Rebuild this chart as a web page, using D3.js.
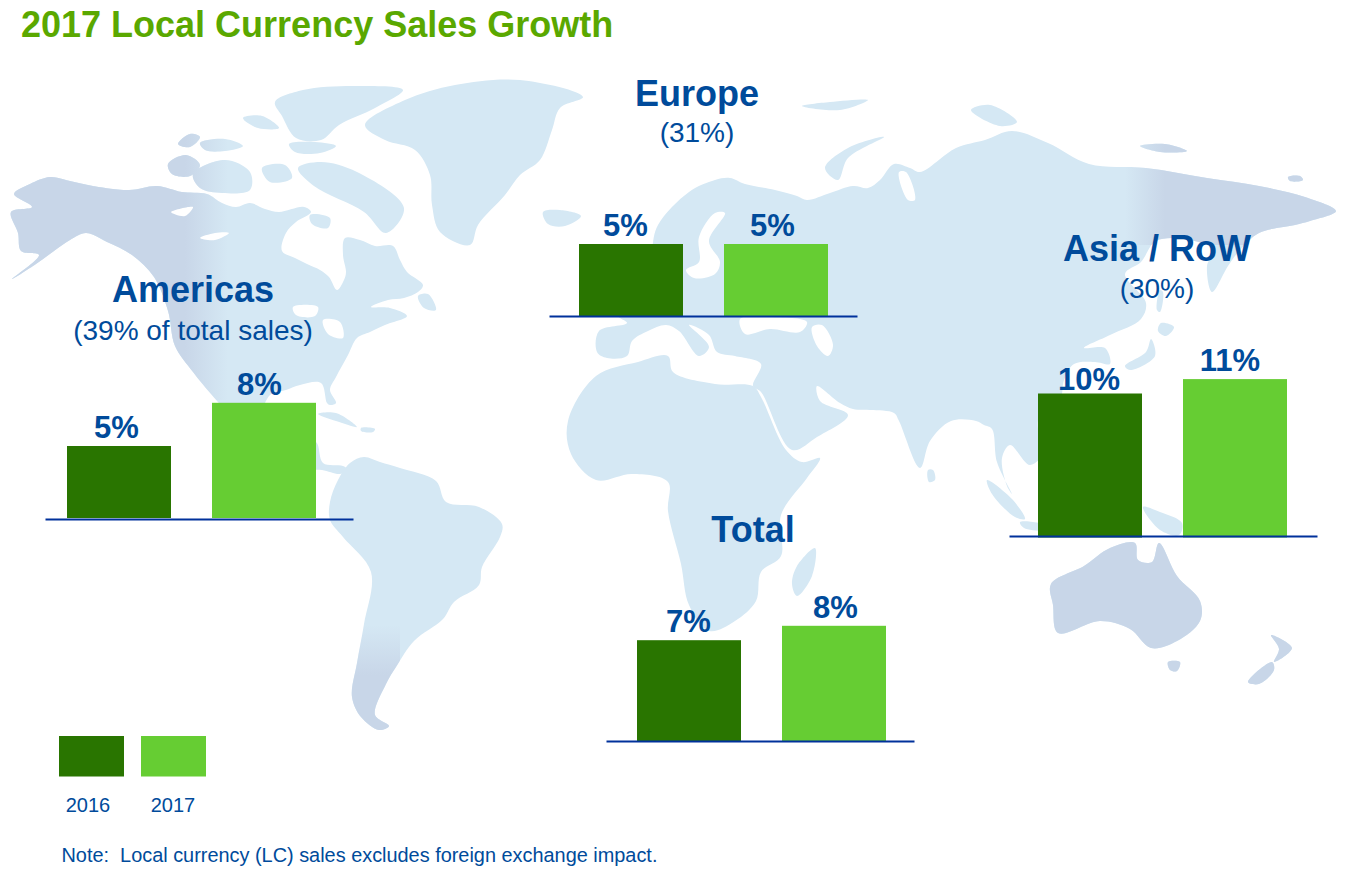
<!DOCTYPE html>
<html>
<head>
<meta charset="utf-8">
<script src="https://cdn.jsdelivr.net/npm/d3@7"></script>
<style>
  body { margin: 0; background: #fff; }
  text { font-family: "Liberation Sans", Arial, sans-serif; }
</style>
</head>
<body>
<svg id="chart"></svg>
<script>
const width = 1345;
const height = 871;

// chart values
const years = ["2016", "2017"];
const regions = ["Americas", "Europe", "Asia / RoW", "Total"];
const shares = ["(39% of total sales)", "(31%)", "(30%)", ""];
const values2016 = [5, 5, 10, 7];
const values2017 = [8, 5, 11, 8];

// where each little panel sits on the map
const panelLeft = [45, 549, 1009, 606];
const barLeft = [67, 579, 1038, 637];
const panelBase = [518, 316, 537.5, 741];
const lineBase = [519, 316, 536, 741];
const titleX = [193, 697, 1157, 753];
const titleY = [302, 106, 261, 542];
const shareY = [340, 142, 298, 0];
const labelShift2016 = [-2.5, -5.5, -1, -0.5];
const labelShift2017 = [-4.5, -3.5, -5, 1.5];
const legendTextX = [88, 173];

const colors = {"2016": "#297500", "2017": "#66cd33"};
const navy = "#004b9b";

// background map outlines in page pixels
const land = [
  // north america
  [[14,194],[30,184],[50,177],[70,181],[93,186],[129,190],[157,186],[182,192],[207,194],[222,203],[236,207],[250,203],[265,209],[279,212],[304,207],[311,212],[296,222],[286,233],[282,251],[295,258],[307,264],[320,270],[329,277],[337,290],[344,280],[346,272],[343,255],[345,238],[360,240],[375,246],[393,246],[400,260],[407,272],[423,285],[418,292],[404,298],[388,300],[371,307],[390,308],[407,316],[385,325],[370,332],[357,338],[348,355],[336,377],[330,390],[336,403],[330,405],[327,403],[321,383],[300,385],[286,390],[270,395],[262,420],[280,445],[300,440],[316,442],[323,463],[343,466],[348,470],[340,474],[322,470],[300,468],[262,440],[235,420],[211,394],[193,372],[175,346],[168,311],[154,277],[132,255],[107,242],[86,233],[70,240],[54,251],[36,264],[12,279],[39,255],[21,251],[18,233],[11,212],[32,207]],
  [[418,296],[428,294],[436,310],[424,308]],
  // south america
  [[330,502],[338,480],[350,463],[364,457],[380,462],[400,468],[436,481],[446,502],[479,507],[502,524],[500,537],[482,567],[479,585],[454,602],[443,619],[414,641],[396,667],[386,684],[375,715],[389,726],[379,730],[361,717],[352,697],[357,663],[364,624],[371,572],[343,537],[330,520]],
  // greenland
  [[365,125],[405,100],[455,85],[520,80],[583,97],[560,108],[552,130],[540,160],[520,175],[505,195],[478,225],[470,245],[440,232],[432,205],[430,175],[415,150],[385,140]],
  // arctic canada
  [[275,102],[303,90],[357,86],[403,90],[375,108],[339,125],[321,140],[296,138],[282,116]],
  [[298,168],[321,162],[357,172],[404,208],[386,233],[364,212],[314,186]],
  [[168,164],[186,155],[200,165],[190,176],[172,174]],
  [[193,174],[225,160],[250,172],[250,190],[222,193],[200,188]],
  [[178,144],[190,134],[200,137],[190,147]],
  [[200,143],[225,139],[243,146],[225,151],[205,150]],
  [[243,118],[262,116],[279,128],[258,128]],
  [[289,144],[315,142],[336,146],[320,153],[295,152]],
  [[262,168],[285,165],[292,178],[270,182]],
  [[310,215],[330,218],[328,228],[312,224]],
  // cuba, hispaniola
  [[318,414],[336,413],[357,427],[336,421]],
  [[361,428],[375,429],[373,432],[361,431]],
  // eurasia
  [[715,180],[730,178],[745,184],[775,190],[797,196],[807,200],[830,193],[853,186],[868,188],[880,180],[894,164],[910,168],[920,172],[956,148],[985,140],[1012,131],[1048,143],[1089,164],[1146,168],[1207,178],[1259,186],[1305,197],[1336,211],[1310,221],[1295,225],[1259,233],[1240,250],[1228,266],[1212,292],[1207,266],[1213,250],[1190,240],[1156,241],[1141,262],[1125,274],[1146,303],[1141,319],[1110,335],[1084,348],[1105,348],[1110,364],[1095,362],[1074,364],[1064,380],[1060,400],[1040,415],[1038,429],[1045,450],[1030,465],[1010,445],[1002,458],[1007,486],[1012,494],[997,462],[992,429],[984,425],[976,421],[951,421],[930,441],[920,468],[899,421],[894,413],[870,410],[853,409],[840,403],[817,386],[820,401],[848,415],[817,437],[792,450],[761,392],[753,386],[761,364],[735,356],[717,352],[709,335],[689,325],[709,347],[699,356],[679,331],[666,325],[648,331],[632,341],[627,356],[607,358],[597,352],[599,331],[627,323],[617,315],[620,300],[650,290],[652,250],[658,225],[689,192]],
  // africa
  [[568,421],[596,376],[638,362],[668,356],[673,372],[715,384],[753,386],[761,397],[786,450],[802,462],[820,458],[807,478],[781,515],[781,556],[761,572],[756,601],[735,621],[709,631],[689,605],[681,564],[668,511],[668,482],[632,474],[596,480],[571,454]],
  // islands of the old world
  [[815,548],[812,576],[797,596],[792,584],[797,566]],
  [[543,212],[560,210],[581,216],[565,226],[548,224]],
  [[825,168],[848,148],[884,137],[848,158],[838,180]],
  [[971,110],[990,105],[1017,122],[1000,126]],
  [[1140,146],[1165,144],[1187,151],[1160,152]],
  [[802,106],[830,102],[868,100],[840,110]],
  [[1288,177],[1300,176],[1303,180],[1290,181]],
  [[928,470],[933,470],[935,480],[929,482]],
  [[987,480],[1012,499],[1025,519],[1015,517],[992,494]],
  [[1020,522],[1050,526],[1052,530],[1024,528]],
  [[1143,507],[1160,512],[1182,523],[1179,535],[1160,530]],
  [[1161,323],[1174,327],[1166,336],[1158,331]],
  [[1151,339],[1155,356],[1130,370],[1125,366],[1146,352]],
  [[1160,290],[1163,292],[1160,312],[1157,310]],
  // australia
  [[1051,584],[1084,566],[1110,548],[1135,543],[1138,560],[1152,562],[1159,543],[1177,576],[1200,601],[1200,621],[1177,641],[1151,648],[1130,629],[1100,621],[1058,633],[1053,605]],
  [[1168,662],[1180,662],[1177,671],[1170,670]],
  [[1271,635],[1292,648],[1274,662],[1279,649]],
  [[1272,662],[1274,670],[1259,684],[1248,682]]
];

// seas and lakes cut back out of the land
const water = [
  [[725,213],[715,213],[699,237],[699,262],[686,270],[694,278],[715,274],[720,262],[709,241]],
  [[740,319],[770,317],[807,322],[800,332],[770,329],[745,334]],
  [[812,327],[822,325],[833,345],[828,356],[817,346]],
  [[293,307],[318,307],[315,316],[296,315]],
  [[323,320],[340,322],[343,338],[328,334]],
  [[200,238],[215,233],[229,233],[215,240]],
  [[171,212],[193,207],[185,216]],
  [[899,172],[906,172],[915,200],[908,200]]
];

const svg = d3.select("#chart").attr("width", width).attr("height", height)
  .style("display", "block");

const outline = d3.line().curve(d3.curveCatmullRomClosed.alpha(0.5));

const defs = svg.append("defs");
defs.append("clipPath").attr("id", "land-clip")
  .selectAll("path").data(land).join("path").attr("d", outline);

// soft edges for the darker tint, as the picture's map fades between tones
const tint = "#c8d6e8";
function fade(id, x1, y1, x2, y2, from, to) {
  const grad = defs.append("linearGradient").attr("id", id)
    .attr("gradientUnits", "userSpaceOnUse")
    .attr("x1", x1).attr("y1", y1).attr("x2", x2).attr("y2", y2);
  grad.append("stop").attr("offset", 0).attr("stop-color", tint).attr("stop-opacity", from);
  grad.append("stop").attr("offset", 1).attr("stop-color", tint).attr("stop-opacity", to);
}
fade("fade-west", 185, 0, 228, 0, 1, 0);
fade("fade-east", 1125, 0, 1165, 0, 0, 1);
fade("fade-south", 0, 625, 0, 675, 0, 1);

const shade = [
  {x: 0, y: 120, w: 185, h: 280, fill: tint},
  {x: 185, y: 120, w: 43, h: 280, fill: "url(#fade-west)"},
  {x: 1125, y: 130, w: 220, h: 115, fill: "url(#fade-east)"},
  {x: 1040, y: 540, w: 260, h: 150, fill: tint},
  {x: 340, y: 625, w: 60, h: 115, fill: "url(#fade-south)"}
];

const map = svg.append("g");
map.selectAll("path.land").data(land).join("path")
  .attr("class", "land")
  .attr("d", outline)
  .attr("fill", "#d5e8f4");
map.append("g").attr("clip-path", "url(#land-clip)")
  .selectAll("rect").data(shade).join("rect")
  .attr("x", d => d.x).attr("y", d => d.y)
  .attr("width", d => d.w).attr("height", d => d.h)
  .attr("fill", d => d.fill);
map.selectAll("path.water").data(water).join("path")
  .attr("class", "water")
  .attr("d", outline)
  .attr("fill", "#fff");

// title
svg.append("text")
  .attr("x", 21).attr("y", 37)
  .attr("fill", "#5aa800")
  .attr("font-size", 36).attr("font-weight", "bold")
  .text("2017 Local Currency Sales Growth");

const y = d3.scaleLinear().domain([0, 1]).range([0, 14.4]);

regions.forEach((region, i) => {
  const left = panelLeft[i];
  const base = panelBase[i];
  const rows = [
    {year: years[0], value: values2016[i], shift: labelShift2016[i]},
    {year: years[1], value: values2017[i], shift: labelShift2017[i]}
  ];

  const x = d3.scaleBand().domain(years)
    .range([barLeft[i], barLeft[i] + 249])
    .paddingInner(41 / 145);

  const g = svg.append("g").attr("class", "panel");

  g.selectAll("rect").data(rows).join("rect")
    .attr("x", d => x(d.year))
    .attr("y", d => base - y(d.value))
    .attr("width", x.bandwidth())
    .attr("height", d => y(d.value))
    .attr("fill", d => colors[d.year]);

  g.selectAll("text.value").data(rows).join("text")
    .attr("class", "value")
    .attr("x", d => x(d.year) + x.bandwidth() / 2 + d.shift)
    .attr("y", d => base - y(d.value) - (d.value === 10 ? 4 : 8))
    .attr("text-anchor", "middle")
    .attr("fill", navy)
    .attr("font-size", 31).attr("font-weight", "bold")
    .text(d => d.value + "%");

  // baseline only, no ticks
  const axisScale = d3.scaleLinear().domain([0, 1]).range([left, left + 308]);
  g.append("g")
    .attr("transform", `translate(0,${lineBase[i]})`)
    .call(d3.axisBottom(axisScale).tickValues([]).tickSizeOuter(0))
    .select(".domain")
    .attr("stroke", "#00319b").attr("stroke-width", 2);

  g.append("text")
    .attr("x", titleX[i]).attr("y", titleY[i])
    .attr("text-anchor", "middle")
    .attr("fill", navy)
    .attr("font-size", 36).attr("font-weight", "bold")
    .text(region);

  if (shares[i]) {
    g.append("text")
      .attr("x", titleX[i]).attr("y", shareY[i])
      .attr("text-anchor", "middle")
      .attr("fill", navy)
      .attr("font-size", 28)
      .text(shares[i]);
  }
});

// legend
const legendX = d3.scaleOrdinal().domain(years).range([59, 141]);
const legend = svg.append("g").attr("class", "legend");
legend.selectAll("rect").data(years).join("rect")
  .attr("x", d => legendX(d)).attr("y", 736)
  .attr("width", 65).attr("height", 40.5)
  .attr("fill", d => colors[d]);
legend.selectAll("text").data(years).join("text")
  .attr("x", (d, i) => legendTextX[i]).attr("y", 812)
  .attr("text-anchor", "middle")
  .attr("fill", navy)
  .attr("font-size", 20)
  .text(d => d);

svg.append("text")
  .attr("x", 61.5).attr("y", 862)
  .attr("fill", navy)
  .attr("font-size", 19.9)
  .style("white-space", "pre")
  .text("Note:  Local currency (LC) sales excludes foreign exchange impact.");
</script>
</body>
</html>
